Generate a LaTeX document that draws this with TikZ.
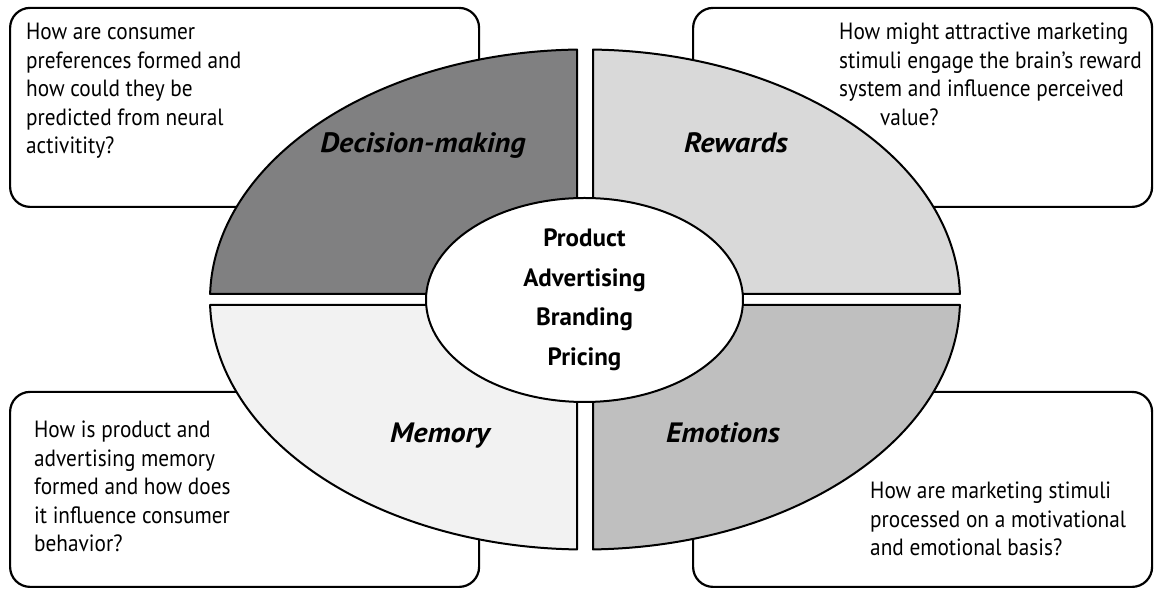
\documentclass[tikz,border=0pt]{standalone}
\usepackage{fontspec}
\setmainfont{PT Sans}
\newfontfamily\qfont[FakeStretch=0.905]{PT Sans}
\newfontfamily\lfont[FakeStretch=1.08]{PT Sans}
\newfontfamily\cfont[FakeStretch=1.0]{PT Sans}
\usetikzlibrary{shapes.geometric}
\definecolor{dmgray}{HTML}{808081}
\definecolor{rwgray}{HTML}{D9D9D9}
\definecolor{mmgray}{HTML}{F2F2F2}
\definecolor{emgray}{HTML}{BFBFBF}
\begin{document}
\begin{tikzpicture}[x=1pt,y=1pt,
  qbox/.style={draw, line width=2.2pt, rounded corners=20pt, fill=white, inner sep=0pt, anchor=south west},
  seg/.style={draw, line width=2pt, line join=round},
  qtext/.style={anchor=north west, inner sep=0pt, align=left, font=\qfont\fontsize{23.5}{28.5}\selectfont},
  lab/.style={anchor=base, inner sep=0pt, font=\lfont\bfseries\itshape\fontsize{28}{32}\selectfont},
  core/.style={ellipse, draw, line width=2pt, fill=white, inner sep=0pt, align=center,
    minimum width=317pt, minimum height=204pt, font=\cfont\bfseries\fontsize{25}{39.5}\selectfont}
]
\useasboundingbox (0,0) rectangle (1154,591);
% question boxes
\node[qbox, minimum width=469pt, minimum height=199pt] (boxTL) at (9,383) {};
\node[qbox, minimum width=459pt, minimum height=199pt] (boxTR) at (692,383) {};
\node[qbox, minimum width=469pt, minimum height=195pt] (boxBL) at (9,3) {};
\node[qbox, minimum width=459pt, minimum height=195pt] (boxBR) at (692,3) {};
% four segments of the ring
\begin{scope}[shift={(585,291.5)}]
\path[seg, fill=dmgray] (-8,5.5) -- (91.222:375 and 250)
  arc[start angle=91.222, end angle=178.739, x radius=375, y radius=250] -- cycle;
\path[seg, fill=rwgray] (8,5.5) -- (1.261:375 and 250)
  arc[start angle=1.261, end angle=88.778, x radius=375, y radius=250] -- cycle;
\path[seg, fill=emgray] (8,-5.5) -- (-88.778:375 and 250)
  arc[start angle=-88.778, end angle=-1.261, x radius=375, y radius=250] -- cycle;
\path[seg, fill=mmgray] (-8,-5.5) -- (181.261:375 and 250)
  arc[start angle=181.261, end angle=268.778, x radius=375, y radius=250] -- cycle;
\end{scope}
% centre
\node[core] (core) at (584.5,291) {Product\\Advertising\\Branding\\Pricing};
% segment labels
\node[lab] (decision) at (423,438) {Decision-making};
\node[lab] (rewards) at (736,438) {Rewards};
\node[lab] (memory) at (440,148) {Memory};
\node[lab] (emotions) at (723,148) {Emotions};
% questions
\node[qtext] (qTL) at (26,568) {How are consumer\\preferences formed and\\how could they be\\predicted from neural\\activitity?};
\node[qtext] (qTR) at (839,568) {How might attractive marketing\\stimuli engage the brain’s reward\\system and influence perceived\\\hspace*{41pt}value?};
\node[qtext] (qBL) at (34,170) {How is product and\\advertising memory\\formed and how does\\it influence consumer\\behavior?};
\node[qtext] (qBR) at (870,109) {How are marketing stimuli\\processed on a motivational\\and emotional basis?};
\end{tikzpicture}
\end{document}
